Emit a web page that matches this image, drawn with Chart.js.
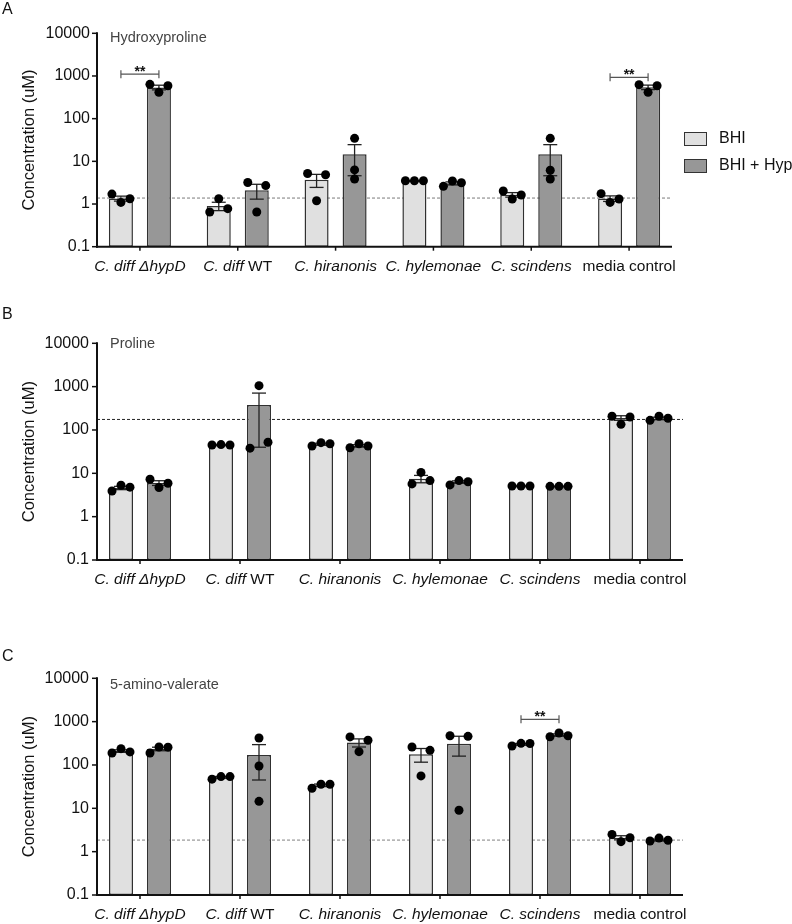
<!DOCTYPE html>
<html>
<head>
<meta charset="utf-8">
<title>Hydroxyproline, proline and 5-amino-valerate</title>
<script src="https://cdn.jsdelivr.net/npm/chart.js@4.4.1/dist/chart.umd.min.js"></script>
<style>
  html, body { margin: 0; padding: 0; background: #fff; }
  body { width: 792px; height: 924px; position: relative; overflow: hidden; font-family: "Liberation Sans", Arial, sans-serif; }
  .panel { position: absolute; left: 0; width: 792px; }
  .tag { position: absolute; left: 2px; font-size: 16px; line-height: 1; color: #111; }
</style>
</head>
<body>
<div class="panel" style="top:0;height:300px"><canvas id="chartA"></canvas></div>
<div class="panel" style="top:300px;height:310px"><canvas id="chartB"></canvas></div>
<div class="panel" style="top:610px;height:314px"><canvas id="chartC"></canvas></div>
<div class="tag" style="top:1px">A</div>
<div class="tag" style="top:306px">B</div>
<div class="tag" style="top:648px">C</div>
<script>
const FONT = "'Liberation Sans', Arial, sans-serif";
Chart.defaults.font.family = FONT;
Chart.defaults.color = '#111';

const categories = ["C. diff ΔhypD", "C. diff WT", "C. hiranonis", "C. hylemonae", "C. scindens", "media control"];
const italicPart = ["C. diff ΔhypD", "C. diff", "C. hiranonis", "C. hylemonae", "C. scindens", ""];
const seriesNames = ["BHI", "BHI + Hyp"];
const yTicks = [0.1, 1, 10, 100, 1000, 10000];
const yTickLabels = ["0.1", "1", "10", "100", "1000", "10000"];

// A - Hydroxyproline
const hypBhi = [1.35, 0.9, 3.7, 3.5, 1.65, 1.35];
const hypBhiSem = [0.18, 0.2, 1.25, 0.03, 0.2, 0.2];
const hypBhiDots = [[1.71, 1.09, 1.33], [0.65, 1.33, 0.78], [5.2, 1.19, 4.85], [3.5, 3.5, 3.5], [2.02, 1.31, 1.63], [1.75, 1.09, 1.31]];
const hypHyp = [540, 2.1, 14.6, 3.05, 14.6, 545];
const hypHypSem = [68, 0.8, 10, 0.25, 10, 66];
const hypHypDots = [[638, 414, 592], [3.2, 0.65, 2.7], [34.6, 6.3, 3.85], [2.6, 3.46, 3.16], [34.6, 6.2, 3.85], [627, 414, 592]];
const hypLimit = 1.38;
const hypSigGroups = [0, 5];
const hypSigLevels = [1100, 930];

// B - Proline
const proBhi = [4.6, 45, 47, 7.5, 5.1, 190];
const proBhiSem = [0.4, 0.5, 2.4, 1.45, 0.05, 23];
const proBhiDots = [[3.9, 5.3, 4.8], [45, 46, 45], [42.7, 51, 48], [5.7, 10.5, 6.8], [5.1, 5.1, 5.1], [207, 135, 199]];
const proHyp = [6.0, 375, 43, 6.3, 5.0, 185];
const proHypSem = [0.75, 335, 2.7, 0.4, 0.05, 12];
const proHypDots = [[7.3, 4.7, 5.9], [38, 1054, 52], [39, 48, 42.7], [5.4, 6.8, 6.4], [5.0, 5.0, 5.0], [167, 207, 186]];
const proLimit = 175;

// C - 5-amino-valerate
const avaBhi = [210, 52, 34, 178, 300, 2.1];
const avaBhiSem = [14, 2.3, 2.3, 62, 13, 0.23];
const avaBhiDots = [[189, 238, 200], [47, 54, 54], [29, 36, 36], [260, 56, 218], [274, 316, 313], [2.5, 1.7, 2.1]];
const avaHyp = [235, 170, 330, 310, 490, 1.85];
const avaHypSem = [22, 125, 70, 150, 30, 0.09];
const avaHypDots = [[189, 260, 257], [420, 95, 14.5], [445, 203, 373], [473, 9, 458], [447, 547, 473], [1.76, 2.06, 1.83]];
const avaLimit = 1.85;
const avaSigGroups = [4];
const avaSigLevels = [1130];

const panels = [
  { id: 'chartA', title: 'Hydroxyproline', bhi: hypBhi, bhiSem: hypBhiSem, bhiDots: hypBhiDots, hyp: hypHyp, hypSem: hypHypSem, hypDots: hypHypDots,
    limit: hypLimit, sigGroups: hypSigGroups, sigLevels: hypSigLevels, legend: true,
    padTop: 33.3, xHeight: 53.3, yWidth: 91, padRight: 114, axisRight: 672, catPct: 0.777, titleDy: 5, limitColor: '#7a7a7a' },
  { id: 'chartB', title: 'Proline', bhi: proBhi, bhiSem: proBhiSem, bhiDots: proBhiDots, hyp: proHyp, hypSem: proHypSem, hypDots: proHypDots,
    limit: proLimit, sigGroups: [], sigLevels: [], legend: false,
    padTop: 43.3, xHeight: 50, yWidth: 90, padRight: 102, axisRight: 683, catPct: 0.76, titleDy: 1, limitColor: '#222' },
  { id: 'chartC', title: '5-amino-valerate', bhi: avaBhi, bhiSem: avaBhiSem, bhiDots: avaBhiDots, hyp: avaHyp, hypSem: avaHypSem, hypDots: avaHypDots,
    limit: avaLimit, sigGroups: avaSigGroups, sigLevels: avaSigLevels, legend: false,
    padTop: 68.3, xHeight: 29, yWidth: 90, padRight: 102, axisRight: 683, catPct: 0.76, titleDy: 7, limitColor: '#808080' }
];

const AXIS_X = 97;
const SPREAD = 9; // px, sideways spread of replicate dots that would overlap

// replicates only get spread out when some of them overlap
function overlaps(group) {
  const logs = group.map(v => Math.log10(v));
  for (let a = 0; a < logs.length; a++)
    for (let b = a + 1; b < logs.length; b++)
      if (Math.abs(logs[a] - logs[b]) < 0.2) return true;
  return false;
}

function line(ctx, x1, y1, x2, y2) {
  ctx.beginPath(); ctx.moveTo(x1, y1); ctx.lineTo(x2, y2); ctx.stroke();
}

function decorations(p) {
  return {
    id: 'deco',
    beforeDatasetsDraw(chart) {
      const { ctx, scales: { y } } = chart;
      const py = y.getPixelForValue(p.limit);
      ctx.save();
      ctx.strokeStyle = p.limitColor;
      ctx.lineWidth = 1;
      ctx.setLineDash([3, 2]);
      line(ctx, AXIS_X, py, p.axisRight, py);
      ctx.restore();
    },
    // error bars (SEM) and the replicate dots on top of each bar series
    afterDatasetDraw(chart, args) {
      const sem = [p.bhiSem, p.hypSem][args.index];
      const dots = [p.bhiDots, p.hypDots][args.index];
      if (!sem) return;
      const { ctx, scales: { y } } = chart;
      const vals = chart.data.datasets[args.index].data;
      ctx.save();
      ctx.strokeStyle = '#222';
      ctx.lineWidth = 1.3;
      args.meta.data.forEach((bar, i) => {
        const top = y.getPixelForValue(vals[i] + sem[i]);
        const bot = y.getPixelForValue(Math.max(vals[i] - sem[i], 0.1));
        line(ctx, bar.x, top, bar.x, bot);
        line(ctx, bar.x - 7, top, bar.x + 7, top);
        line(ctx, bar.x - 7, bot, bar.x + 7, bot);
      });
      ctx.fillStyle = '#000';
      args.meta.data.forEach((bar, i) => {
        const spread = overlaps(dots[i]);
        dots[i].forEach((v, j) => {
          ctx.beginPath();
          ctx.arc(bar.x + (spread ? (j - 1) * SPREAD : 0), y.getPixelForValue(v), 4.5, 0, Math.PI * 2);
          ctx.fill();
        });
      });
      ctx.restore();
    },
    afterDatasetsDraw(chart) {
      const { ctx, chartArea: a, scales: { x, y } } = chart;
      ctx.save();
      ctx.strokeStyle = '#111';
      ctx.lineWidth = 2;
      line(ctx, AXIS_X, a.top - 1, AXIS_X, a.bottom + 1);
      line(ctx, AXIS_X - 1, a.bottom, p.axisRight, a.bottom);
      ctx.lineWidth = 1.5;
      yTicks.forEach(v => {
        const py = y.getPixelForValue(v);
        line(ctx, AXIS_X - 5, py, AXIS_X, py);
      });
      categories.forEach((c, i) => {
        const px = x.getPixelForValue(i);
        line(ctx, px, a.bottom, px, a.bottom + 4);
      });
      ctx.restore();
    },
    afterDraw(chart) {
      const { ctx, chartArea: a, scales: { x, y } } = chart;
      ctx.save();
      ctx.fillStyle = '#111';

      // category labels, species names in italics
      ctx.textBaseline = 'middle';
      ctx.textAlign = 'left';
      const ly = a.bottom + 20;
      categories.forEach((label, i) => {
        const it = italicPart[i];
        const rest = label.slice(it.length);
        const fI = 'italic 15.5px ' + FONT, fN = '15.5px ' + FONT;
        ctx.font = fI; const wI = ctx.measureText(it).width;
        ctx.font = fN; const wN = ctx.measureText(rest).width;
        const sx = x.getPixelForValue(i) - (wI + wN) / 2;
        ctx.font = fI; ctx.fillText(it, sx, ly);
        ctx.font = fN; ctx.fillText(rest, sx + wI, ly);
      });

      // y axis title
      ctx.save();
      ctx.translate(29.5, (a.top + a.bottom) / 2);
      ctx.rotate(-Math.PI / 2);
      ctx.textAlign = 'center';
      ctx.font = '16.5px ' + FONT;
      ctx.fillText('Concentration (uM)', 0, 0);
      ctx.restore();

      // panel subtitle
      ctx.fillStyle = '#444';
      ctx.font = '14.5px ' + FONT;
      ctx.fillText(p.title, 110, a.top + p.titleDy);

      // significance brackets, from BHI bar to BHI + Hyp bar
      const bhiBars = chart.getDatasetMeta(0).data, hypBars = chart.getDatasetMeta(1).data;
      p.sigGroups.forEach((g, k) => {
        const x1 = bhiBars[g].x, x2 = hypBars[g].x;
        const py = y.getPixelForValue(p.sigLevels[k]);
        ctx.strokeStyle = '#555';
        ctx.lineWidth = 1.2;
        line(ctx, x1, py, x2, py);
        line(ctx, x1, py - 4, x1, py + 4);
        line(ctx, x2, py - 4, x2, py + 4);
        ctx.fillStyle = '#111';
        ctx.font = 'bold 14px ' + FONT;
        ctx.textAlign = 'center';
        ctx.textBaseline = 'alphabetic';
        ctx.fillText('**', (x1 + x2) / 2, py + 2);
      });

      // legend
      if (p.legend) {
        ctx.textAlign = 'left';
        ctx.textBaseline = 'middle';
        ctx.font = '16px ' + FONT;
        seriesNames.forEach((name, k) => {
          const ds = chart.data.datasets[k];
          const by = 132 + k * 27;
          ctx.fillStyle = ds.backgroundColor;
          ctx.fillRect(684, by, 22, 13);
          ctx.strokeStyle = '#333';
          ctx.lineWidth = 1;
          ctx.strokeRect(684.5, by + 0.5, 22, 13);
          ctx.fillStyle = '#111';
          ctx.fillText(name, 719, by + 7);
        });
      }
      ctx.restore();
    }
  };
}

panels.forEach(p => {
  const barStyle = {
    borderColor: '#303030',
    borderWidth: 1.5,
    borderSkipped: false,
    categoryPercentage: p.catPct,
    barPercentage: 0.632
  };
  new Chart(document.getElementById(p.id), {
    type: 'bar',
    data: {
      labels: categories,
      datasets: [
        { ...barStyle, label: seriesNames[0], data: p.bhi, backgroundColor: '#e0e0e0' },
        { ...barStyle, label: seriesNames[1], data: p.hyp, backgroundColor: '#979797' }
      ]
    },
    options: {
      responsive: true,
      maintainAspectRatio: false,
      animation: false,
      events: [],
      layout: { padding: { top: p.padTop, right: p.padRight, left: 0, bottom: 0 } },
      plugins: { legend: { display: false }, tooltip: { enabled: false } },
      scales: {
        x: {
          type: 'category',
          ticks: { display: false },
          grid: { display: false, drawTicks: false },
          border: { display: false },
          afterFit: s => { s.height = p.xHeight; }
        },
        y: {
          type: 'logarithmic',
          min: 0.1,
          max: 10000,
          grid: { display: false, drawTicks: false },
          border: { display: false },
          afterBuildTicks: s => { s.ticks = yTicks.map(v => ({ value: v })); },
          afterFit: s => { s.width = p.yWidth; },
          ticks: {
            autoSkip: false,
            padding: 1,
            color: '#111',
            font: { size: 16 },
            callback: (v, i) => yTickLabels[i]
          }
        }
      }
    },
    plugins: [decorations(p)]
  });
});
</script>
</body>
</html>
